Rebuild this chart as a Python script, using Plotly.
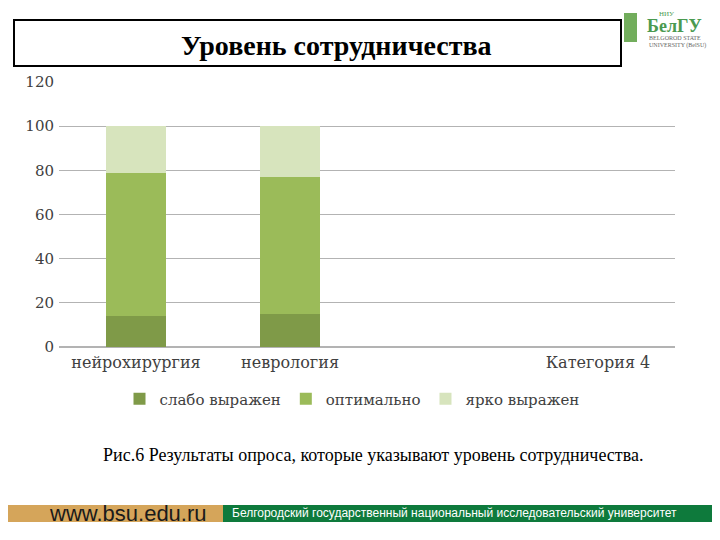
import plotly.graph_objects as go

categories = ["нейрохирургия", "неврология", " ", "Категория 4"]
series_names = ["слабо выражен", "оптимально", "ярко выражен"]
weak = [14, 15, None, None]
optimal = [65, 62, None, None]
bright = [21, 23, None, None]
colors = ["#7f9a48", "#9bbb59", "#d7e4bd"]

# page body has an 8px margin, so the figure is drawn 8px in from the window edge
OFF = 8
W, H = 712, 532
L, R, T, B = 51, 45, 74, 193


def px(x):
    return (x - OFF - L) / (W - L - R)


def py(y):
    return 1 - (y - OFF - T) / (H - T - B)


fig = go.Figure()
for name, vals, col in zip(series_names, [weak, optimal, bright], colors):
    fig.add_trace(go.Bar(x=categories, y=vals, name=name, marker_color=col,
                         marker_line_width=0, width=0.39))

serif = "Liberation Serif"
wide_serif = "DejaVu Serif"
fig.update_layout(
    width=W, height=H, barmode="stack",
    margin=dict(l=L, r=R, t=T, b=B),
    paper_bgcolor="white", plot_bgcolor="white",
    font=dict(family=wide_serif, size=15, color="#404040"),
    showlegend=True,
    legend=dict(orientation="h", x=px(352), xanchor="center", y=py(399), yanchor="middle",
                font=dict(family=wide_serif, size=15, color="#404040"), itemwidth=30,
                traceorder="normal"),
    xaxis=dict(showline=False, ticks="", tickfont=dict(size=16, color="#404040"),
               ticklabelstandoff=4),
    yaxis=dict(range=[0, 120], dtick=20, showgrid=True, gridcolor="#b3b3b3",
               gridwidth=1, zeroline=True, zerolinecolor="#b3b3b3", zerolinewidth=2,
               tickfont=dict(size=15, color="#404040"), ticklabelstandoff=4),
)

shapes = [
    # title box
    dict(type="rect", xref="paper", yref="paper", x0=px(14), x1=px(621), y0=py(20), y1=py(66),
         line=dict(color="black", width=2), fillcolor="white"),
    # footer bars
    dict(type="rect", xref="paper", yref="paper", x0=px(8), x1=px(223), y0=py(505), y1=py(522),
         line=dict(width=0), fillcolor="#d5a55a"),
    dict(type="rect", xref="paper", yref="paper", x0=px(223), x1=px(717), y0=py(505), y1=py(522),
         line=dict(width=0), fillcolor="#0e7a3c"),
    # logo shield
    dict(type="rect", xref="paper", yref="paper", x0=px(624), x1=px(637), y0=py(13), y1=py(42),
         line=dict(width=0), fillcolor="#72ad5c"),
]
fig.update_layout(shapes=shapes)

ann = [
    dict(text="<b>Уровень сотрудничества</b>", x=px(336), y=py(45),
         font=dict(family=serif, size=28, color="black")),
    dict(text="Рис.6 Результаты опроса, которые указывают уровень сотрудничества.",
         x=px(373), y=py(455), font=dict(family=serif, size=18, color="black")),
    dict(text="www.bsu.edu.ru", x=px(128), y=py(513),
         font=dict(family="Liberation Sans", size=22, color="#1a1a1a")),
    dict(text="Белгородский государственный национальный исследовательский университет",
         x=px(230), y=py(513), xanchor="left",
         font=dict(family="Liberation Sans", size=12, color="white")),
    dict(text="НИУ", x=px(657), y=py(14), xanchor="left",
         font=dict(family=serif, size=7, color="#4a9a50")),
    dict(text="<b>БелГУ</b>", x=px(645), y=py(26), xanchor="left",
         font=dict(family=serif, size=18, color="#4a9a50")),
    dict(text="BELGOROD STATE", x=px(647), y=py(38), xanchor="left",
         font=dict(family=serif, size=6, color="#666666")),
    dict(text="UNIVERSITY (BelSU)", x=px(647), y=py(45), xanchor="left",
         font=dict(family=serif, size=6, color="#666666")),
]
for a in ann:
    a.setdefault("xanchor", "center")
    fig.add_annotation(xref="paper", yref="paper", showarrow=False, yanchor="middle", **a)

fig.write_html("out.html")
